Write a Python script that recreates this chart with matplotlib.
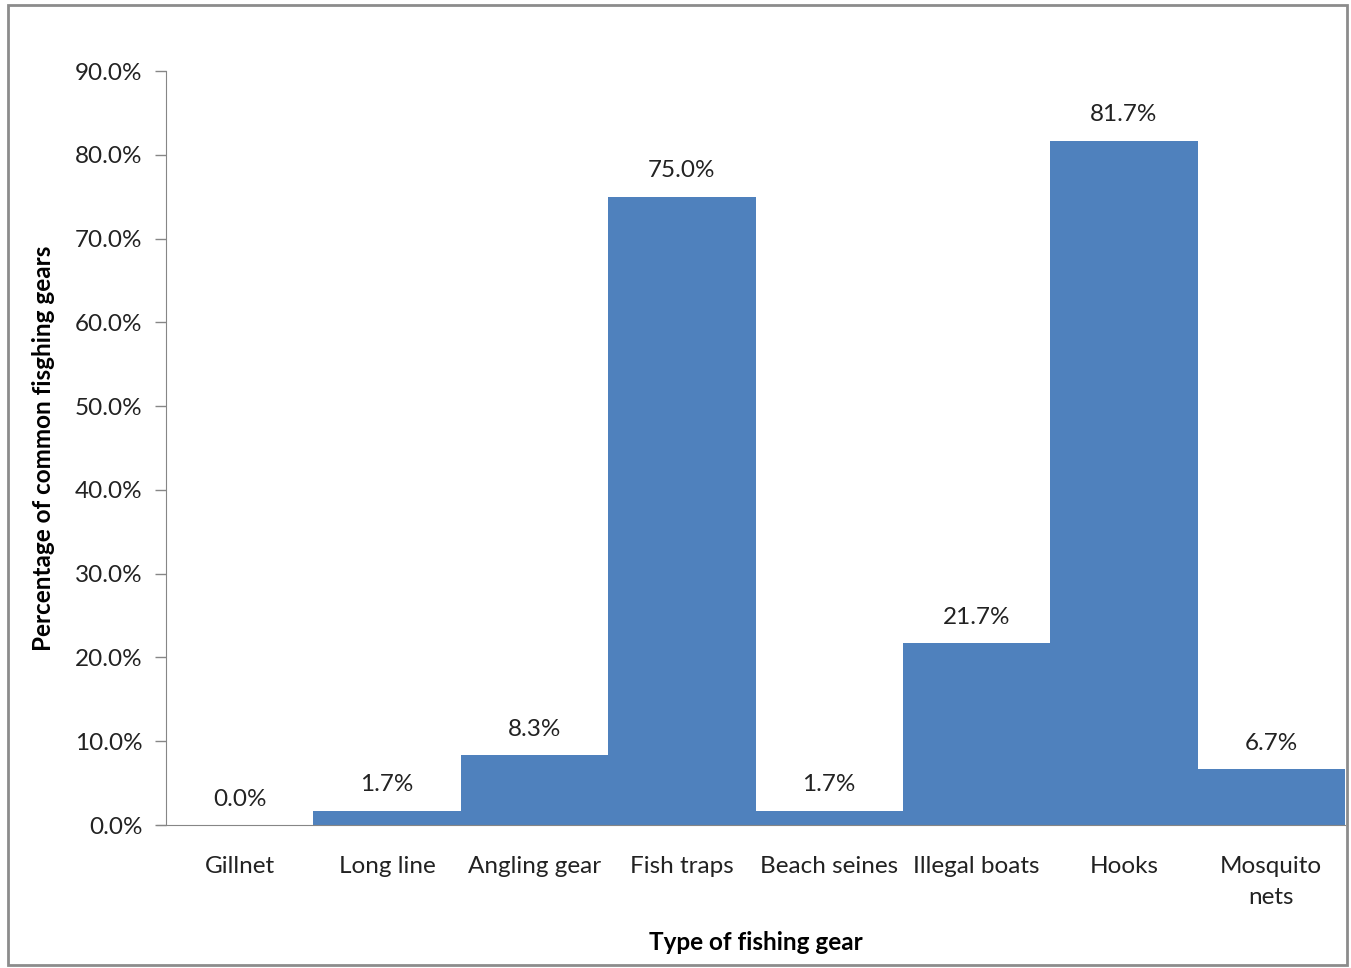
import numpy as np
import matplotlib.pyplot as plt
from matplotlib.patches import Rectangle

gears = ["Gillnet", "Long line", "Angling gear", "Fish traps", "Beach seines",
         "Illegal boats", "Hooks", "Mosquito\nnets"]
percent = [0.0, 1.7, 8.3, 75.0, 1.7, 21.7, 81.7, 6.7]

plt.rcParams['font.family'] = ['Lato', 'DejaVu Sans']
axis_grey = "#868686"
bar_blue = "#4F81BD"
fs = 17.5

fig = plt.figure(figsize=(13.51, 9.68), dpi=100)
ax = fig.add_axes([166/1351, 1-825/968, (1345-166)/1351, (825-71)/968])

x = np.arange(len(gears))
ax.bar(x, percent, width=1.0, color=bar_blue, align="center")
for xi, v in zip(x, percent):
    ax.annotate(f"{v:.1f}%", (xi, v), xytext=(0, 11), textcoords="offset points",
                ha="center", va="bottom", fontsize=fs, color="#222222")

ax.set_xlim(-0.5, len(gears) - 0.5)
ax.set_ylim(0, 90)
ax.set_yticks(np.arange(0, 91, 10))
ax.set_yticklabels([f"{t:.1f}%" for t in np.arange(0, 91, 10)])
ax.set_xticks(x)
ax.set_xticklabels(gears, linespacing=1.6)
ax.tick_params(axis="y", length=8, width=1, color=axis_grey, labelsize=fs,
               labelcolor="#222222", pad=9)
ax.tick_params(axis="x", length=0, labelsize=fs, labelcolor="#222222", pad=22)

for s in ["top", "right"]:
    ax.spines[s].set_visible(False)
ax.spines["left"].set_color(axis_grey)
ax.spines["bottom"].set_color(axis_grey)
ax.spines["bottom"].set_bounds(-0.56, len(gears) - 0.5)

ax.set_xlabel("Type of fishing gear", fontsize=fs, fontweight="bold", labelpad=17)
ax.set_ylabel("Percentage of common fisghing gears", fontsize=fs,
              fontweight="bold", labelpad=14)

fig.patches.append(Rectangle((8/1351, 1-965/968), (1347-8)/1351, (965-5)/968,
                             transform=fig.transFigure, fill=False,
                             edgecolor="#8c8c8c", linewidth=2))

fig.savefig("out.png", dpi=100)
